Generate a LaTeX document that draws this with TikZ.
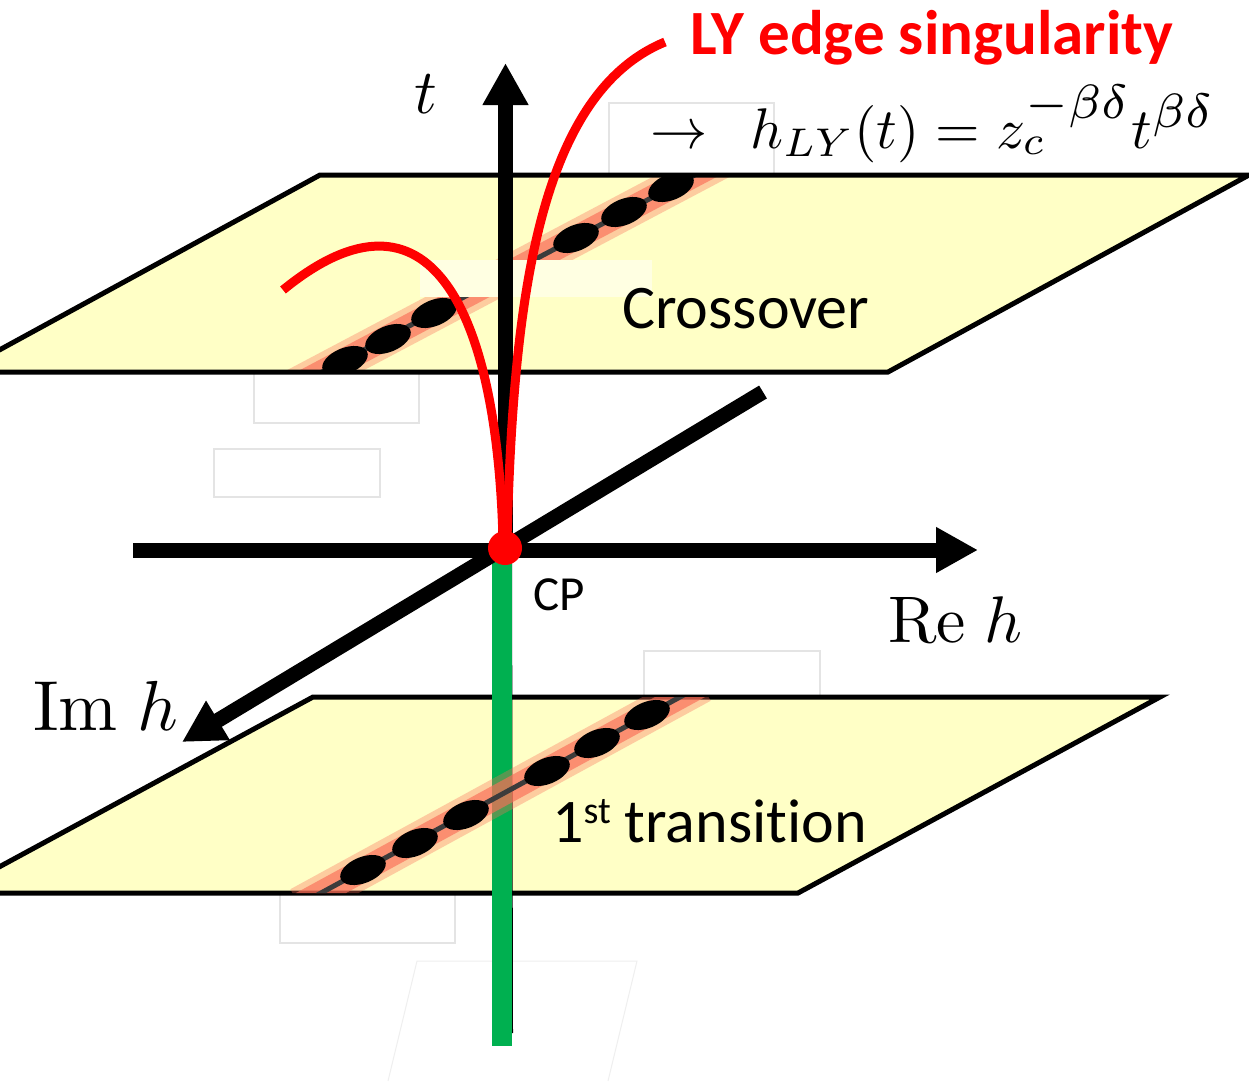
\documentclass[tikz,border=0pt]{standalone}
\usepackage{fontspec}
\usepackage{graphicx}
\newfontfamily\carlito{Carlito}[Ligatures={NoCommon}]
\usetikzlibrary{arrows.meta,shapes.geometric}
\definecolor{planeY}{RGB}{255,255,198}
\definecolor{paleY}{RGB}{255,255,226}
\definecolor{cpgreen}{RGB}{0,176,80}
\definecolor{salmon}{RGB}{250,110,88}
\definecolor{boxgray}{RGB}{228,228,228}
\definecolor{dotline}{RGB}{60,60,60}
\begin{document}
\begin{tikzpicture}[x=1pt,y=-1pt,
  plane/.style={draw=black,line width=5pt,fill=planeY},
  faintbox/.style={draw=boxgray,line width=1.2pt,fill=white},
  axis/.style={line width=15pt,-{Triangle[length=42pt,width=43pt]}},
  bandwide/.style={salmon,line width=36pt,opacity=0.35},
  bandnarrow/.style={salmon,line width=24pt,opacity=0.65},
  dotlink/.style={dotline,line width=5pt},
  spot/.style={ellipse,fill=black,minimum width=48pt,minimum height=26pt,inner sep=0pt,rotate=22},
  redcurve/.style={red,line width=9pt},
  lbl/.style={inner sep=0pt,anchor=base west}
]
\useasboundingbox (0,0) rectangle (1249,1081);
\fill[white] (0,0) rectangle (1249,1081);

% faint boxes
\draw[faintbox] (609,103) rectangle (774,175);
\draw[faintbox] (254,372) rectangle (419,423);
\draw[faintbox] (214,449) rectangle (380,497);
\draw[faintbox] (644,651) rectangle (820,697);
\draw[faintbox] (280,893) rectangle (455,943);
% faint parallelogram at bottom
\draw[boxgray!60,line width=1pt] (388,1081) -- (417,961) -- (637,961) -- (608,1081);

% ---------- upper plane ----------
\coordinate (U1) at (320,175);
\coordinate (U2) at (1249,175);
\coordinate (U3) at (888,372);
\coordinate (U4) at (-41,372);
\fill[planeY] (U1) -- (U2) -- (U3) -- (U4) -- cycle;
\begin{scope}
  \clip (U1) -- (U2) -- (U3) -- (U4) -- cycle;
  \coordinate (ua) at (288,390);
  \coordinate (ub) at (723,160);
  \draw[bandwide] (ua) -- (ub);
  \draw[bandnarrow] (ua) -- (ub);
  \draw[dotlink] (ua) -- (ub);
  \node[spot] (u1) at (345,361) {};
  \node[spot] (u2) at (388,339) {};
  \node[spot] (u3) at (434,313) {};
  \node[spot] (u4) at (576,238) {};
  \node[spot] (u5) at (624,212) {};
  \node[spot] (u6) at (671,187) {};
\end{scope}
\draw[plane,fill=none] (U1) -- (U2) -- (U3) -- (U4) -- cycle;
\fill[paleY] (420,260) rectangle (652,297);

% ---------- lower plane ----------
\coordinate (L1) at (313,697);
\coordinate (L2) at (1160,697);
\coordinate (L3) at (798,893);
\coordinate (L4) at (-49,893);
\draw[plane] (L1) -- (L2) -- (L3) -- (L4) -- cycle;

% t axis lower part (hidden under green)
\coordinate (tbot) at (506,1033);
\coordinate (cp) at (505,548);
\draw[line width=14pt] (tbot) -- (cp);
% green first-order line
\coordinate (gtop) at (502,548);
\coordinate (gbot) at (502,1046);
\draw[cpgreen,line width=20pt] (gtop) -- (gbot);

\begin{scope}
  \clip (L1) -- (L2) -- (L3) -- (L4) -- cycle;
  \coordinate (la) at (299,905);
  \coordinate (lb) at (702,685);
  \draw[bandwide] (la) -- (lb);
  \draw[bandnarrow] (la) -- (lb);
  \draw[dotlink] (la) -- (lb);
  \node[spot] (l1) at (363,870) {};
  \node[spot] (l2) at (415,843) {};
  \node[spot] (l3) at (466,815) {};
  \node[spot] (l4) at (547,771) {};
  \node[spot] (l5) at (597,743) {};
  \node[spot] (l6) at (647,715) {};
\end{scope}

% ---------- axes ----------
\coordinate (imstart) at (763,392);
\coordinate (imtip) at (182,742);
\draw[axis] (imstart) -- (imtip);
\coordinate (restart) at (133,550);
\coordinate (retip) at (978,550);
\draw[axis] (restart) -- (retip);
\coordinate (ttip) at (505.5,63);
\draw[axis] (505.5,548) -- (ttip);

% ---------- red LY curves ----------
\coordinate (rend) at (665,42);
\coordinate (lend) at (283,290);
\draw[redcurve] (507,540) .. controls (513,310) and (536,95) .. (rend);
\draw[redcurve] (503,540) .. controls (497,310) and (430,170) .. (lend);
\node[circle,fill=red,minimum size=34pt,inner sep=0pt] (cpdot) at (cp) {};

% ---------- labels ----------
\node[lbl,red] (ly) at (690,55) {\carlito\bfseries\fontsize{63pt}{70pt}\selectfont LY edge singularity};
\node[lbl] (formula) at (650,148) {\resizebox{565pt}{!}{$\mathord{\rightarrow}\hspace{0.75em}h_{LY}(t)=z_c^{\hbox{\scalebox{1.2}{$\scriptstyle-\beta\delta$}}}t^{\hbox{\scalebox{1.2}{$\scriptstyle\beta\delta$}}}$}};
\node[lbl] (tlabel) at (414,113) {\scalebox{6.3}{$t$}};
\node[lbl] (cross) at (622,328) {\carlito\fontsize{62pt}{70pt}\selectfont Crossover};
\node[lbl] (cplabel) at (533,610) {\carlito\fontsize{49pt}{55pt}\selectfont CP};
\node[lbl] (relabel) at (888,642) {\resizebox{134pt}{!}{$\mathrm{Re}\;h$}};
\node[lbl] (imlabel) at (33,730) {\resizebox{145pt}{!}{$\mathrm{Im}\;h$}};
\node[lbl] (first) at (552,842) {\carlito\fontsize{62pt}{70pt}\selectfont 1\raisebox{19pt}{\fontsize{38pt}{40pt}\selectfont st} transition};
\end{tikzpicture}
\end{document}
